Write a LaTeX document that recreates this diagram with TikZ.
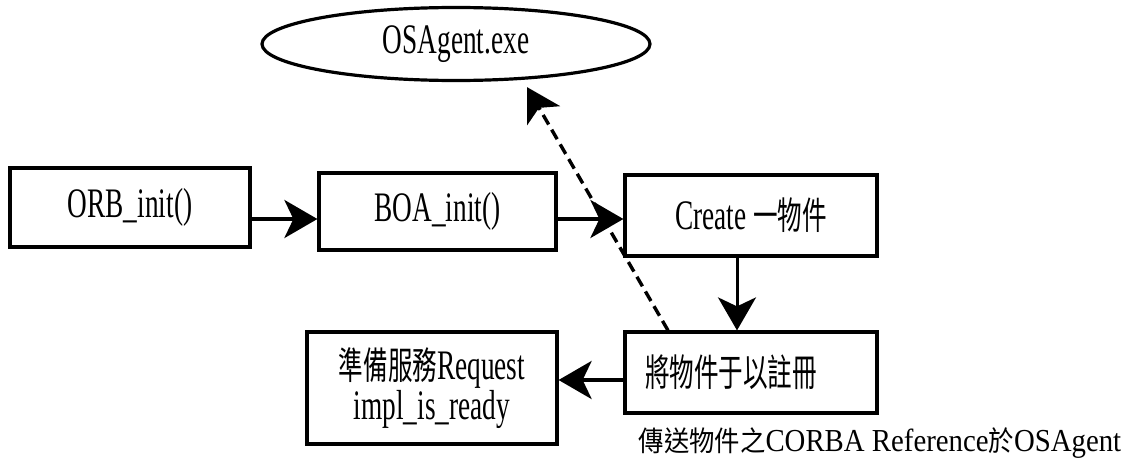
\documentclass[tikz,border=0pt]{standalone}
\usepackage{fontspec}
\setmainfont{Liberation Serif}[FakeStretch=0.65]
\newfontfamily\cjk{Noto Sans CJK TC}[FakeStretch=0.65,Scale=0.9]
\newfontfamily\capfont{Liberation Serif}[FakeStretch=0.9]
\newfontfamily\capcjk{Noto Sans CJK TC}[FakeStretch=0.9,Scale=0.88]
\usetikzlibrary{arrows.meta,shapes.geometric}

\begin{document}
\begin{tikzpicture}[x=1pt,y=-1pt,
  box/.style={draw, rectangle, line width=3.2pt, inner sep=0pt, align=center,
    font=\fontsize{42}{34}\selectfont},
  head/.style={-{Stealth[length=33pt,width=38pt,inset=9pt]}},
  arr/.style={head, line width=3.8pt},
  thinarr/.style={head, line width=3pt},
  dasharr/.style={head, line width=3.4pt, dash pattern=on 11pt off 6pt}]

% canvas
\fill[white] (0,0) rectangle (1127,471);
\useasboundingbox (0,0) rectangle (1127,471);

% agent process
\node[draw, ellipse, line width=3.2pt, minimum width=388pt, minimum height=73pt,
  inner sep=0pt, font=\fontsize{42}{34}\selectfont] (osa) at (456,44)
  {\raisebox{-6pt}{OSAgent.exe}};

% server start-up steps
\node[box, minimum width=240pt, minimum height=79pt] (orb) at (130,207.5) {ORB\_init()};
\node[box, minimum width=237pt, minimum height=77pt] (boa) at (437.5,211.5) {BOA\_init()};
\node[box, minimum width=252pt, minimum height=81pt] (create) at (751,215.5) {Create {\cjk 一物件}};
\node[box, minimum width=252pt, minimum height=81pt] (reg) at (751,372.5) {{\cjk 將物件于以註冊}\hspace*{40pt}};
\node[box, minimum width=250pt, minimum height=112pt] (ready) at (432,388)
  {{\cjk 準備服務}Request\\impl\_is\_ready};

% note under the registration step
\node[inner sep=0pt, font=\capfont\fontsize{32}{36}\selectfont] (cap) at (880,443)
  {{\capcjk 傳送物件之}CORBA Reference{\capcjk 於}OSAgent};

% flow
\draw[arr] ([yshift=-11.5pt]orb.east) -- ([yshift=-7.5pt]boa.west);
\draw[arr] ([yshift=-7.5pt]boa.east) -- ([yshift=-3.5pt]create.west);
\draw[thinarr] ([xshift=-14pt]create.south) -- ([xshift=-14pt]reg.north);
\draw[arr] ([yshift=-7.5pt]reg.west) -- ([yshift=8pt]ready.east);
\draw[dasharr] ([xshift=-83pt]reg.north) -- ([xshift=71pt,yshift=-5pt]osa.south);
\end{tikzpicture}
\end{document}
